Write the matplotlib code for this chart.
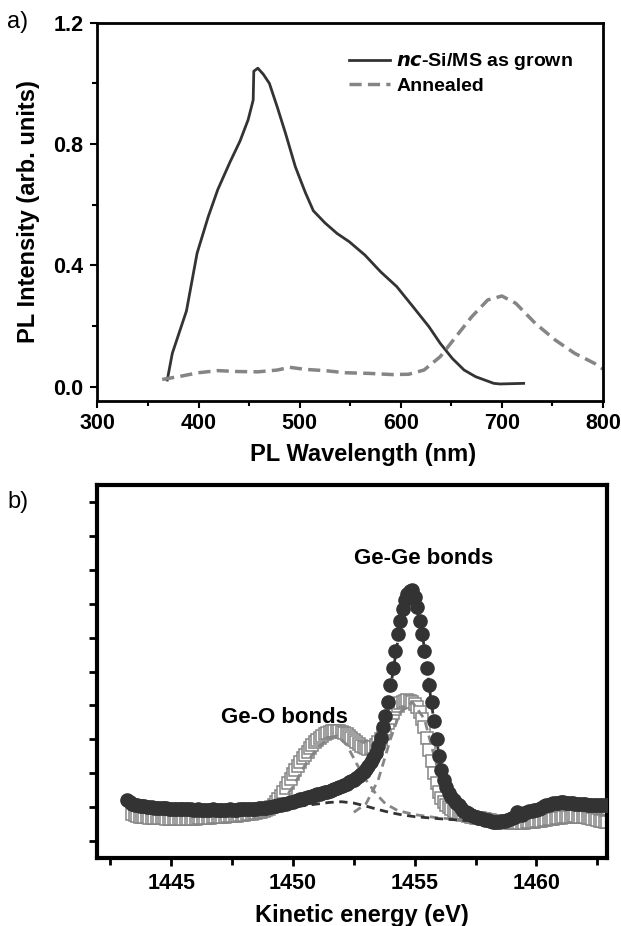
import numpy as np
import matplotlib
matplotlib.use("Agg")
import matplotlib.pyplot as plt
from matplotlib.ticker import MultipleLocator, NullFormatter

plt.rcParams['font.family'] = ['Liberation Sans', 'DejaVu Sans']
plt.rcParams['font.weight'] = 'bold'

# ---- panel a: PL spectra ----
wl_grown = [369, 374, 388, 398.5, 409.5, 419, 431, 441, 449, 454, 454.6, 458.6, 464, 470,
            478, 486, 495.7, 505.6, 513.5, 525, 537, 549, 564.5, 580, 596, 612, 627.8,
            639, 651, 662.6, 674, 692, 698, 721.5]
pl_grown = [0.022, 0.11, 0.25, 0.44, 0.56, 0.65, 0.74, 0.81, 0.88, 0.945, 1.04, 1.05, 1.03, 1.0,
            0.92, 0.835, 0.725, 0.64, 0.58, 0.54, 0.505, 0.478, 0.434, 0.379, 0.33, 0.264, 0.198,
            0.143, 0.093, 0.055, 0.033, 0.011, 0.009, 0.011]

wl_ann = [364, 380, 399.7, 419, 439, 458.6, 478, 490, 505.6, 525, 545, 568, 591.5, 607.7,
          623, 639, 654.6, 670, 686, 700, 713.7, 733, 752.7, 772, 791.6, 800]
pl_ann = [0.024, 0.033, 0.046, 0.053, 0.05, 0.049, 0.055, 0.064, 0.057, 0.053, 0.046, 0.044,
          0.04, 0.041, 0.055, 0.099, 0.165, 0.23, 0.286, 0.299, 0.275, 0.209, 0.154, 0.11,
          0.077, 0.058]

# ---- panel b: XPS Ge 2p (kinetic energy), arbitrary units ----
ke_circ = np.round(np.arange(1443.2, 1462.95, 0.1), 1)
y_circ = [
    1.70, 1.64, 1.60, 1.57, 1.55, 1.54, 1.53, 1.52,
    1.51, 1.50, 1.50, 1.49, 1.49, 1.48, 1.48, 1.47, 1.47, 1.46,
    1.46, 1.46, 1.45, 1.45, 1.45, 1.44, 1.44, 1.44, 1.44, 1.43,
    1.43, 1.44, 1.42, 1.43, 1.43, 1.42, 1.43, 1.44, 1.42, 1.43,
    1.43, 1.42, 1.43, 1.43, 1.44, 1.43, 1.42, 1.43, 1.44, 1.44,
    1.44, 1.45, 1.44, 1.45, 1.46, 1.46, 1.47, 1.47, 1.48, 1.49,
    1.50, 1.51, 1.52, 1.53, 1.55, 1.56, 1.58, 1.60, 1.62, 1.64,
    1.66, 1.68, 1.71, 1.73, 1.75, 1.77, 1.79, 1.81, 1.83, 1.85,
    1.88, 1.90, 1.92, 1.94, 1.96, 1.98, 2.00, 2.03, 2.06, 2.09,
    2.12, 2.15, 2.19, 2.23, 2.27, 2.31, 2.36, 2.41, 2.47, 2.54,
    2.62, 2.72, 2.83, 2.95, 3.10, 3.30, 3.55, 3.85, 4.20, 4.60,
    5.10, 5.60, 6.10, 6.60, 7.00, 7.35, 7.60, 7.80, 7.88, 7.90,
    7.70, 7.40, 7.00, 6.60, 6.10, 5.60, 5.10, 4.60, 4.05, 3.50,
    3.00, 2.60, 2.30, 2.10, 1.92, 1.80, 1.70, 1.62, 1.55, 1.49,
    1.40, 1.36, 1.32, 1.28, 1.25, 1.22, 1.19, 1.17, 1.15, 1.13,
    1.11, 1.09, 1.07, 1.05, 1.05, 1.06, 1.08, 1.10, 1.12, 1.14,
    1.17, 1.22, 1.35, 1.30, 1.28, 1.32, 1.36, 1.38, 1.40, 1.42,
    1.43, 1.45, 1.48, 1.52, 1.55, 1.57, 1.59, 1.61, 1.62, 1.63,
    1.64, 1.64, 1.63, 1.62, 1.62, 1.61, 1.60, 1.60, 1.59, 1.58,
    1.58, 1.57, 1.57, 1.56, 1.56, 1.56, 1.55, 1.55, 1.56, 1.55,
]

ke_sq = np.round(np.arange(1443.4, 1462.95, 0.1), 1)
y_sq = [
    1.30, 1.26, 1.24, 1.22, 1.21, 1.20,
    1.20, 1.19, 1.19, 1.18, 1.18, 1.17, 1.17, 1.17, 1.16, 1.16,
    1.16, 1.15, 1.15, 1.15, 1.15, 1.14, 1.14, 1.15, 1.15, 1.16,
    1.16, 1.17, 1.17, 1.18, 1.18, 1.19, 1.19, 1.20, 1.20, 1.21,
    1.21, 1.22, 1.22, 1.23, 1.23, 1.24, 1.25, 1.25, 1.26, 1.27,
    1.28, 1.29, 1.30, 1.31, 1.32, 1.33, 1.35, 1.37, 1.39, 1.42,
    1.45, 1.50, 1.56, 1.64, 1.73, 1.84, 1.96, 2.08, 2.21, 2.34,
    2.47, 2.60, 2.72, 2.83, 2.94, 3.04, 3.14, 3.24, 3.33, 3.41,
    3.48, 3.55, 3.61, 3.66, 3.70, 3.73, 3.75, 3.76, 3.76, 3.75,
    3.73, 3.70, 3.66, 3.61, 3.55, 3.48, 3.42, 3.36, 3.31, 3.27,
    3.24, 3.23, 3.24, 3.27, 3.33, 3.41, 3.52, 3.66, 3.82, 3.98,
    4.13, 4.27, 4.39, 4.49, 4.56, 4.61, 4.64, 4.65, 4.64, 4.61,
    4.55, 4.45, 4.30, 4.10, 3.85, 3.55, 3.20, 2.85, 2.50, 2.20,
    1.95, 1.78, 1.66, 1.57, 1.50, 1.44, 1.40, 1.36, 1.33, 1.30,
    1.28, 1.26, 1.24, 1.22, 1.21, 1.19, 1.18, 1.17, 1.15, 1.14,
    1.13, 1.12, 1.10, 1.09, 1.08, 1.07, 1.06, 1.05, 1.05, 1.04,
    1.04, 1.03, 1.03, 1.03, 1.04, 1.04, 1.05, 1.05, 1.06, 1.07,
    1.08, 1.09, 1.10, 1.11, 1.13, 1.14, 1.15, 1.16, 1.17, 1.18,
    1.19, 1.20, 1.21, 1.22, 1.22, 1.23, 1.23, 1.22, 1.22, 1.21,
    1.20, 1.18, 1.17, 1.15, 1.14, 1.12, 1.10, 1.08, 1.06, 1.05,
]

# fitted components
ke_fit_gege_dark = [1453.0, 1453.5, 1454.0, 1454.5, 1454.9, 1455.3, 1455.7, 1456.1, 1456.5, 1457.0]
y_fit_gege_dark = [2.55, 3.3, 5.0, 7.3, 7.9, 6.7, 4.5, 2.5, 1.75, 1.45]
ke_fit_geo_dark = [1448.5, 1449.5, 1450.5, 1451.5, 1452.0, 1452.5, 1453.0, 1453.5, 1454.0,
                   1454.5, 1455.0, 1456.0, 1457.0, 1458.0, 1459.0]
y_fit_geo_dark = [1.38, 1.44, 1.55, 1.64, 1.66, 1.62, 1.53, 1.43, 1.34, 1.27, 1.22, 1.16,
                  1.11, 1.07, 1.05]
ke_fit_geo_gray = [1449.0, 1449.5, 1450.0, 1450.5, 1451.0, 1451.5, 1451.8, 1452.2, 1452.6,
                   1453.0, 1453.4, 1453.8, 1454.3, 1455.0, 1456.0, 1457.0, 1458.0]
y_fit_geo_gray = [1.35, 1.6, 2.1, 2.75, 3.25, 3.55, 3.6, 3.35, 2.8, 2.3, 1.9, 1.6, 1.4, 1.28,
                  1.18, 1.13, 1.1]
ke_fit_gege_gray = [1452.5, 1453.0, 1453.5, 1454.0, 1454.4, 1454.9, 1455.4, 1455.8, 1456.2,
                    1456.6, 1457.0, 1458.0]
y_fit_gege_gray = [1.35, 1.6, 2.3, 3.5, 4.3, 4.6, 4.1, 3.0, 2.0, 1.5, 1.3, 1.15]

DARK = '#333333'
GRAY = '#858585'

fig = plt.figure(figsize=(6.21, 9.26), dpi=100)

# ---------------- panel a ----------------
ax1 = fig.add_axes([0.157, 0.567, 0.814, 0.4085])
ax1.plot(wl_grown, pl_grown, color=DARK, lw=2.0, label=r'$\mathbfit{nc}$-Si/MS as grown')
ax1.plot(wl_ann, pl_ann, color=GRAY, lw=2.5, ls=(0, (3.5, 1.8)), label='Annealed')
ax1.set_xlim(300, 800)
ax1.set_ylim(-0.047, 1.2)
ax1.xaxis.set_major_locator(MultipleLocator(100))
ax1.xaxis.set_minor_locator(MultipleLocator(50))
ax1.set_yticks([0.0, 0.4, 0.8, 1.2])
ax1.yaxis.set_minor_locator(MultipleLocator(0.2))
ax1.yaxis.set_major_formatter(plt.FuncFormatter(lambda v, p: '%.1f' % v))
ax1.tick_params(which='major', direction='out', length=5, width=1.5, labelsize=15.5, pad=4)
ax1.tick_params(axis='y', which='major', pad=5)
ax1.tick_params(which='minor', direction='out', length=3.5, width=1.5)
for s in ax1.spines.values():
    s.set_linewidth(2)
ax1.set_xlabel('PL Wavelength (nm)', fontsize=17, fontweight='bold')
ax1.set_ylabel('PL Intensity (arb. units)', fontsize=17, fontweight='bold', labelpad=10)
ax1.xaxis.set_label_coords(0.525, -0.112)
leg = ax1.legend(loc='upper left', bbox_to_anchor=(0.478, 0.95), frameon=False,
                 handlelength=2.1, handletextpad=0.35, borderpad=0,
                 labelspacing=0.25, prop={'weight': 'bold', 'size': 14})

fig.text(0.012, 0.976, 'a)', fontsize=17, fontweight='normal', va='center', ha='left')

# ---------------- panel b ----------------
ax2 = fig.add_axes([0.157, 0.0734, 0.8205, 0.4028])
ax2.plot(ke_sq, y_sq, ls='none', marker='s', ms=8, mfc='white', mec=GRAY, mew=1.1, zorder=2)
ax2.plot(ke_fit_geo_gray, y_fit_geo_gray, color=GRAY, lw=2.0, ls=(0, (3, 2)), zorder=3)
ax2.plot(ke_fit_gege_gray, y_fit_gege_gray, color=GRAY, lw=2.0, ls=(0, (3, 2)), zorder=3)
ax2.plot(ke_circ, y_circ, ls='none', marker='o', ms=9.5, mfc=DARK, mec=DARK, zorder=4)
ax2.plot(ke_fit_geo_dark, y_fit_geo_dark, color=DARK, lw=2.0, ls=(0, (3, 2)), zorder=3)
ax2.plot(ke_fit_gege_dark, y_fit_gege_dark, color=DARK, lw=2.0, ls=(0, (3, 2)), zorder=5)
ax2.set_xlim(1441.97, 1462.9)
ax2.set_ylim(0, 11)
ax2.xaxis.set_major_locator(MultipleLocator(5))
ax2.xaxis.set_minor_locator(MultipleLocator(2.5))
ax2.set_yticks(np.arange(0.5, 11, 1.0))
ax2.yaxis.set_major_formatter(NullFormatter())
ax2.tick_params(which='major', direction='out', length=6, width=2, labelsize=15.5, pad=5)
ax2.tick_params(which='minor', direction='out', length=5, width=2)
for s in ax2.spines.values():
    s.set_linewidth(3)
ax2.set_xlabel('Kinetic energy (eV)', fontsize=17, fontweight='bold')
ax2.xaxis.set_label_coords(0.518, -0.122)
ax2.text(1455.36, 8.83, 'Ge-Ge bonds', fontsize=16, fontweight='bold', ha='center', va='center')
ax2.text(1449.65, 4.14, 'Ge-O bonds', fontsize=16, fontweight='bold', ha='center', va='center')

fig.text(0.012, 0.458, 'b)', fontsize=17, fontweight='normal', va='center', ha='left')

fig.savefig('out.png', dpi=100)
